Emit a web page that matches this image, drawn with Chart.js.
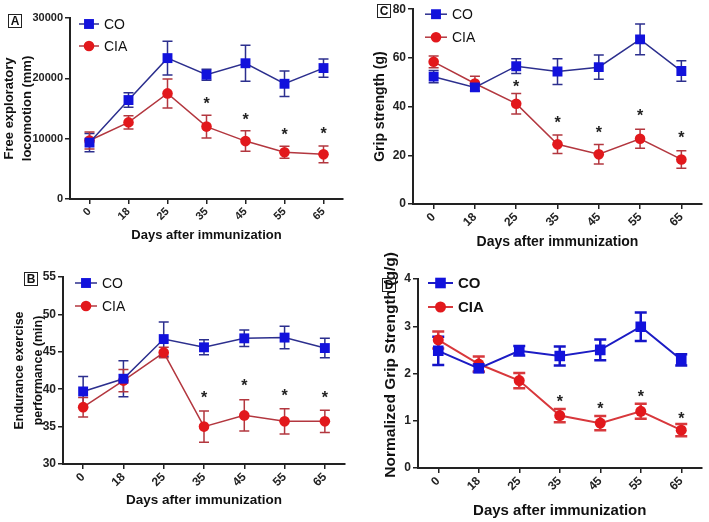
<!DOCTYPE html>
<html lang="en">
<head>
<meta charset="UTF-8">
<title>CIA vs CO</title>
<script src="https://cdn.jsdelivr.net/npm/chart.js@4.4.0/dist/chart.umd.min.js"></script>
<style>
    body {
        margin: 0;
        width: 709px;
        height: 522px;
        position: relative;
        overflow: hidden;
        background: #fff;
        font-family: "Liberation Sans", Arial, sans-serif;
    }
    canvas { position: absolute; }
    .tag {
        position: absolute;
        width: 12px;
        height: 12px;
        border: 1px solid #222;
        font-weight: bold;
        font-size: 12px;
        line-height: 12px;
        text-align: center;
        color: #111;
    }
</style>
</head>
<body>
<canvas id="chartA" width="355" height="258" style="left:0;top:0"></canvas>
<canvas id="chartB" width="355" height="260" style="left:0;top:262px"></canvas>
<canvas id="chartC" width="354" height="258" style="left:355px;top:0"></canvas>
<canvas id="chartD" width="354" height="282" style="left:355px;top:240px"></canvas>
<div class="tag" style="left:8px;top:14px">A</div>
<div class="tag" style="left:24px;top:272px">B</div>
<div class="tag" style="left:377px;top:4px">C</div>
<div class="tag" style="left:382px;top:278px">D</div>
<script>
    Chart.defaults.font.family = '"Liberation Sans", Arial, sans-serif';
    Chart.defaults.color = '#222';

    // x categories
    const days = ['0', '18', '25', '35', '45', '55', '65'];

    // A - free exploratory locomotion (mm)
    const locoCO = [9350, 16400, 23350, 20600, 22500, 19100, 21700];
    const locoCOErr = [1500, 1200, 2800, 900, 3000, 2100, 1500];
    const locoCIA = [9700, 12700, 17500, 12000, 9600, 7750, 7400];
    const locoCIAErr = [1400, 1100, 2400, 1900, 1700, 1000, 1400];
    const locoStars = [null, null, null, 16400, 13800, 11300, 11450];

    // B - endurance exercise performance (min)
    const endCO = [39.7, 41.4, 46.7, 45.6, 46.8, 46.9, 45.5];
    const endCOErr = [2.0, 2.4, 2.3, 1.0, 1.1, 1.5, 1.3];
    const endCIA = [37.6, 41.15, 44.9, 35.0, 36.5, 35.7, 35.7];
    const endCIAErr = [1.3, 1.5, 0.7, 2.1, 2.1, 1.7, 1.5];
    const endStars = [null, null, null, 39.3, 40.9, 39.6, 39.4];

    // C - grip strength (g)
    const gripCO = [52.3, 47.9, 56.6, 54.4, 56.2, 67.6, 54.6];
    const gripCOErr = [2.5, 1.5, 3.0, 5.3, 5.0, 6.3, 4.2];
    const gripCIA = [58.4, 49.5, 41.2, 24.5, 20.4, 26.8, 18.3];
    const gripCIAErr = [2.4, 3.0, 4.2, 3.8, 4.0, 3.9, 3.6];
    const gripStars = [null, null, 49.5, 34.9, 31, 37.6, 28.7];

    // D - normalized grip strength (g/g)
    const normCO = [2.48, 2.11, 2.48, 2.37, 2.5, 2.99, 2.29];
    const normCOErr = [0.3, 0.08, 0.1, 0.2, 0.22, 0.3, 0.12];
    const normCIA = [2.71, 2.2, 1.85, 1.11, 0.95, 1.2, 0.8];
    const normCIAErr = [0.18, 0.16, 0.16, 0.14, 0.15, 0.16, 0.13];
    const normStars = [null, null, null, 1.48, 1.34, 1.58, 1.13];

    // error bars, asterisks and the little legend
    const extras = {
        id: 'extras',
        beforeDatasetsDraw(chart) {
            const ctx = chart.ctx;
            const y = chart.scales.y;
            chart.data.datasets.forEach((ds, i) => {
                const meta = chart.getDatasetMeta(i);
                ctx.save();
                ctx.strokeStyle = ds.errColor;
                ctx.lineWidth = ds.errWidth;
                meta.data.forEach((pt, j) => {
                    const v = ds.data[j], e = ds.errors[j];
                    const top = y.getPixelForValue(v + e);
                    const bot = y.getPixelForValue(v - e);
                    const c = ds.capWidth / 2;
                    ctx.beginPath();
                    ctx.moveTo(pt.x, top); ctx.lineTo(pt.x, bot);
                    ctx.moveTo(pt.x - c, top); ctx.lineTo(pt.x + c, top);
                    ctx.moveTo(pt.x - c, bot); ctx.lineTo(pt.x + c, bot);
                    ctx.stroke();
                });
                ctx.restore();
            });
        },
        afterDatasetsDraw(chart, args, opts) {
            const ctx = chart.ctx;
            const x = chart.scales.x, y = chart.scales.y;
            const area = chart.chartArea;
            ctx.save();
            // asterisks
            ctx.fillStyle = '#222';
            ctx.font = 'bold 16px "Liberation Sans", Arial, sans-serif';
            ctx.textAlign = 'center';
            ctx.textBaseline = 'alphabetic';
            opts.stars.forEach((s, j) => {
                if (s === null) return;
                ctx.fillText('*', x.getPixelForValue(j), y.getPixelForValue(s) + 9);
            });
            // legend
            ctx.font = opts.legendFont;
            ctx.textBaseline = 'middle';
            ctx.textAlign = 'left';
            chart.data.datasets.forEach((ds, i) => {
                const lx = area.left + opts.legendX;
                const ly = area.top + opts.legendY + i * opts.legendGap;
                ctx.strokeStyle = ds.borderColor;
                ctx.lineWidth = ds.borderWidth;
                ctx.beginPath();
                ctx.moveTo(lx, ly);
                ctx.lineTo(lx + opts.legendLen, ly);
                ctx.stroke();
                ctx.fillStyle = ds.pointBackgroundColor;
                Chart.helpers.drawPoint(ctx, {
                    pointStyle: ds.pointStyle, radius: ds.pointRadius, borderWidth: 0, rotation: 0
                }, lx + opts.legendLen / 2, ly);
                ctx.fillStyle = '#111';
                ctx.fillText(ds.label, lx + opts.legendLen + 5, ly + 1);
            });
            ctx.restore();
        }
    };

    function makeChart(id, p) {
        const big = p.big;
        const coLine = big ? '#1c1cc4' : '#2c2f8e';
        const ciaLine = big ? '#d8383c' : '#b3373f';
        return new Chart(document.getElementById(id), {
            type: 'line',
            data: {
                labels: days,
                datasets: [{
                    label: 'CO',
                    data: p.co,
                    errors: p.coErr,
                    borderColor: coLine,
                    borderWidth: big ? 2 : 1.5,
                    pointStyle: 'rect',
                    pointRadius: big ? 7.5 : 7,
                    pointBackgroundColor: '#1212dc',
                    pointBorderWidth: 0,
                    errColor: big ? '#1414c8' : '#2c2f8e',
                    errWidth: big ? 2.5 : 1.5,
                    capWidth: big ? 12 : 10
                }, {
                    label: 'CIA',
                    data: p.cia,
                    errors: p.ciaErr,
                    borderColor: ciaLine,
                    borderWidth: big ? 2 : 1.5,
                    pointStyle: 'circle',
                    pointRadius: big ? 5.5 : 5.3,
                    pointBackgroundColor: '#e2181c',
                    pointBorderWidth: 0,
                    errColor: big ? '#d8383c' : '#b3373f',
                    errWidth: big ? 2.5 : 1.5,
                    capWidth: big ? 12 : 10
                }]
            },
            options: {
                responsive: false,
                animation: false,
                layout: { padding: { top: p.padTop, right: p.padRight, left: 0, bottom: 0 } },
                plugins: {
                    legend: { display: false },
                    tooltip: { enabled: false },
                    extras: {
                        stars: p.stars,
                        legendFont: p.legendFont,
                        legendX: p.legendX,
                        legendY: p.legendY,
                        legendGap: p.legendGap,
                        legendLen: p.legendLen
                    }
                },
                scales: {
                    x: {
                        type: 'category',
                        offset: true,
                        grid: { drawOnChartArea: false, offset: false, color: '#222', lineWidth: 1.5, tickLength: 5 },
                        border: { color: '#222', width: 2 },
                        ticks: {
                            color: '#222', minRotation: 45, maxRotation: 45, padding: 1,
                            font: { size: p.tickSize, weight: 'bold' }
                        },
                        title: {
                            display: true, text: 'Days after immunization', color: '#111',
                            font: { size: p.xTitleSize, weight: 'bold' },
                            padding: { top: 0, bottom: p.xTitlePad }
                        },
                        afterFit(scale) { scale.height = p.xHeight; }
                    },
                    y: {
                        min: p.min, max: p.max,
                        grid: { drawOnChartArea: false, color: '#222', lineWidth: 1.5, tickLength: 5 },
                        border: { color: '#222', width: 2 },
                        ticks: {
                            stepSize: p.step, color: '#222', padding: 2,
                            font: { size: p.tickSize, weight: 'bold' },
                            callback: v => String(v)
                        },
                        title: {
                            display: true, text: p.yTitle, color: '#111',
                            font: { size: p.yTitleSize, weight: 'bold', lineHeight: p.yTitleLh },
                            padding: { top: p.yTitlePad, bottom: 0 }
                        },
                        afterFit(scale) { scale.width = p.yWidth; }
                    }
                }
            },
            plugins: [extras]
        });
    }

    makeChart('chartA', {
        co: locoCO, coErr: locoCOErr, cia: locoCIA, ciaErr: locoCIAErr, stars: locoStars,
        min: 0, max: 30000, step: 10000,
        yTitle: ['Free exploratory', 'locomotion (mm)'], yTitleSize: 13, yTitleLh: 1.4, yTitlePad: 0,
        yWidth: 70, xHeight: 59, padTop: 18, padRight: 12,
        tickSize: 11, xTitleSize: 13, xTitlePad: 15,
        legendFont: '14px "Liberation Sans", Arial, sans-serif',
        legendX: 9, legendY: 6, legendGap: 22, legendLen: 20
    });

    makeChart('chartB', {
        co: endCO, coErr: endCOErr, cia: endCIA, ciaErr: endCIAErr, stars: endStars,
        min: 30, max: 55, step: 5,
        yTitle: ['Endurance exercise', 'performance (min)'], yTitleSize: 12.5, yTitleLh: 1.5, yTitlePad: 10,
        yWidth: 63, xHeight: 58, padTop: 15, padRight: 10,
        tickSize: 12, xTitleSize: 13.5, xTitlePad: 14,
        legendFont: '14px "Liberation Sans", Arial, sans-serif',
        legendX: 12, legendY: 6, legendGap: 23, legendLen: 22
    });

    makeChart('chartC', {
        co: gripCO, coErr: gripCOErr, cia: gripCIA, ciaErr: gripCIAErr, stars: gripStars,
        min: 0, max: 80, step: 20,
        yTitle: 'Grip strength (g)', yTitleSize: 14, yTitleLh: 1.2, yTitlePad: 17,
        yWidth: 58, xHeight: 54, padTop: 9, padRight: 1,
        tickSize: 12, xTitleSize: 14, xTitlePad: 7,
        legendFont: '14px "Liberation Sans", Arial, sans-serif',
        legendX: 12, legendY: 5, legendGap: 23, legendLen: 22
    });

    // leading spaces nudge the rotated title up a little, as in the original
    makeChart('chartD', {
        big: true,
        co: normCO, coErr: normCOErr, cia: normCIA, ciaErr: normCIAErr, stars: normStars,
        min: 0, max: 4, step: 1,
        yTitle: '    Normalized Grip Strength (g/g)', yTitleSize: 15.5, yTitleLh: 1.2, yTitlePad: 26,
        yWidth: 63, xHeight: 54, padTop: 39, padRight: 7,
        tickSize: 12, xTitleSize: 15, xTitlePad: 2,
        legendFont: 'bold 15px "Liberation Sans", Arial, sans-serif',
        legendX: 10, legendY: 4, legendGap: 24, legendLen: 25
    });
</script>
</body>
</html>
